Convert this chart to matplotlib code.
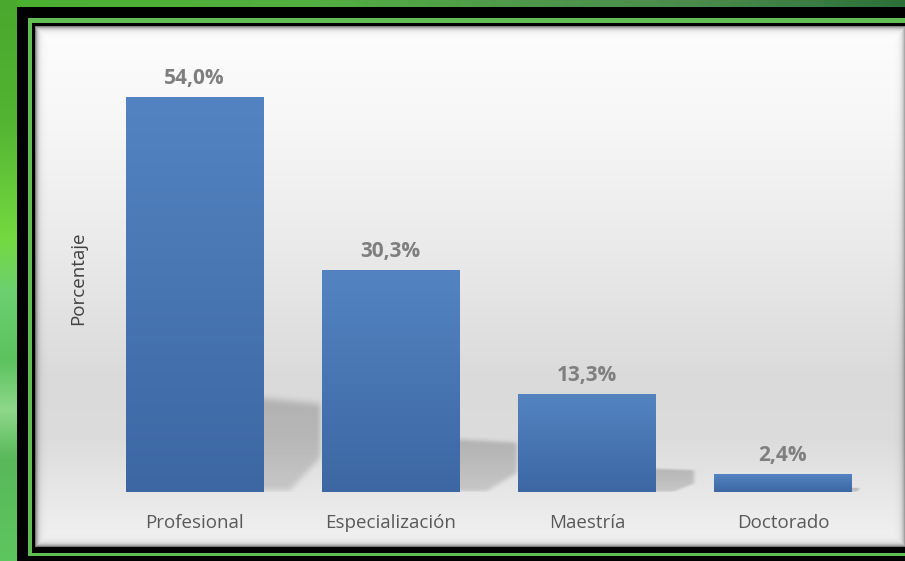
import numpy as np
import matplotlib.pyplot as plt
from matplotlib.patches import Rectangle
from matplotlib.path import Path
from matplotlib.colors import LinearSegmentedColormap, to_rgb

plt.rcParams['font.family'] = ['Open Sans', 'DejaVu Sans']

categorias = ['Profesional', 'Especialización', 'Maestría', 'Doctorado']
porcentajes = [54.0, 30.3, 13.3, 2.4]

W, H = 905, 561
fig = plt.figure(figsize=(W / 100, H / 100), dpi=100)

# ---- fondo en coordenadas de pixel: marco verde / negro y panel gris ----
bg = fig.add_axes([0, 0, 1, 1])
bg.set_xlim(0, W)
bg.set_ylim(H, 0)
bg.axis('off')


def degradado(pos, colores, n):
    t = np.linspace(pos[0], pos[-1], n)
    rgb = np.array([to_rgb(c) for c in colores])
    return np.stack([np.interp(t, pos, rgb[:, k]) for k in range(3)], axis=-1)


def suavizar(a, r):
    k = np.ones(2 * r + 1) / (2 * r + 1)
    for _ in range(2):
        a = np.apply_along_axis(lambda v: np.convolve(v, k, mode='same'), 0, a)
        a = np.apply_along_axis(lambda v: np.convolve(v, k, mode='same'), 1, a)
    return a


# franja verde izquierda
izq = degradado([0, 120, 240, 290, 360, 410, 460, 561],
                ['#4aa82e', '#52b432', '#74da40', '#6cd070', '#5cc25e',
                 '#8ed88a', '#58b85a', '#5ec65e'], H)
bg.imshow(izq[:, None, :], extent=(0, 17, H, 0), aspect='auto', zorder=0)

# banda verde superior
sup = degradado([17, 300, 500, 700, 905],
                ['#4aae2e', '#52b040', '#4f9a4a', '#4a8a4c', '#2c7038'], 400)
bg.imshow(sup[None, :, :], extent=(17, W, 7, 0), aspect='auto', zorder=0)

# marco negro con filete verde
bg.add_patch(Rectangle((17, 7), W, H, facecolor='black', zorder=1))
bg.add_patch(Rectangle((28, 18), W, 556 - 18, facecolor='#62bd55', zorder=2))
bg.add_patch(Rectangle((32, 23), W, 553 - 23, facecolor='black', zorder=3))

# panel con degradado vertical
x0p, x1p, y0p, y1p = 35, 905, 26, 547
panel = degradado([y0p, 120, 250, 380, 440, 500, y1p],
                  ['#fdfdfd', '#f7f7f7', '#eaeaea', '#dadada', '#dcdcdc',
                   '#e9e9e9', '#f2f2f2'], y1p - y0p)
bg.imshow(panel[:, None, :], extent=(x0p, x1p, y1p, y0p), aspect='auto',
          zorder=4)

# sombra interior del panel
xs = np.arange(x1p - x0p) + 0.5
ys = np.arange(y1p - y0p) + 0.5
dx = np.minimum(xs, xs[::-1])
dy = np.minimum(ys, ys[::-1])
dist = np.minimum(dx[None, :], dy[:, None])
sombra = np.zeros((len(ys), len(xs), 4))
sombra[..., 3] = 0.6 * np.exp(-dist / 2.5)
bg.imshow(sombra, extent=(x0p, x1p, y1p, y0p), aspect='auto', zorder=5)

# ---- grafico de barras ----
ax = fig.add_axes([96.5 / W, (H - 492) / H, 784.5 / W, 437.8 / H])
ax.patch.set_alpha(0)

ancho = 0.7
x = np.arange(len(categorias))
barras = ax.bar(x, porcentajes, width=ancho, color='#4674b0', zorder=2)

azul = LinearSegmentedColormap.from_list('azul', ['#3c67a3', '#5384c1'])
grad = np.linspace(0, 1, 256).reshape(-1, 1)
for b in barras:
    bx, bw, bh = b.get_x(), b.get_width(), b.get_height()
    ax.imshow(grad, cmap=azul, extent=(bx, bx + bw, 0, bh), origin='lower',
              aspect='auto', clip_path=b, zorder=2.5)

# sombras difusas en perspectiva detras de cada barra
for i, h in enumerate(porcentajes):
    xr = i + ancho / 2
    d = min(0.29, 0.0145 * h)
    sh = 0.24 * h
    contorno = Path([(xr - 0.05, 0), (xr - 0.05, sh), (xr + d, sh * 0.93),
                     (xr + d, sh * 0.36), (xr + d * 0.45, 0), (xr - 0.05, 0)])
    ex0, ex1 = xr - 0.05, xr + d + 0.06
    ey1 = sh * 1.15 + 0.8
    gx = np.linspace(ex0, ex1, 160)
    gy = np.linspace(0, ey1, 160)
    GX, GY = np.meshgrid(gx, gy)
    dentro = contorno.contains_points(np.c_[GX.ravel(), GY.ravel()])
    mascara = suavizar(dentro.reshape(GX.shape).astype(float), 5)
    t = np.clip(GY / max(sh, 1e-6), 0, 1)
    img = np.zeros(GX.shape + (4,))
    img[..., :3] = 0.35
    img[..., 3] = 0.32 * mascara * (0.7 + 0.3 * t)
    ax.imshow(img, extent=(ex0, ex1, 0, ey1), origin='lower', aspect='auto',
              zorder=1)

for i, h in enumerate(porcentajes):
    ax.annotate(f'{h:.1f}%'.replace('.', ','), (i, h), xytext=(0, 10),
                textcoords='offset points', ha='center', va='baseline',
                fontsize=15, fontweight='bold', color='#7f7f7f')

ax.set_xlim(-0.5, 3.5)
ax.set_ylim(0, 60)
ax.set_xticks(x, categorias, fontsize=13.5, color='#595959')
ax.tick_params(axis='x', length=0, pad=15.5)
ax.set_yticks([])
for s in ax.spines.values():
    s.set_visible(False)

ax.set_ylabel('Porcentaje', fontsize=13.5, color='#404040')
ax.yaxis.set_label_coords(-0.012, 0.489)

fig.savefig('out.png', dpi=100)
